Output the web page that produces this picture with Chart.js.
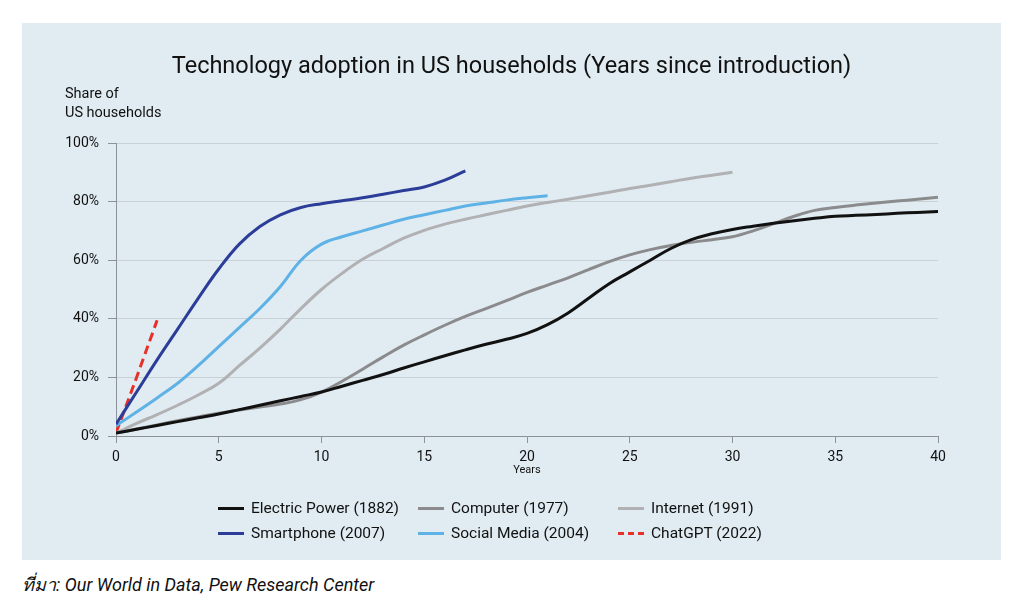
<!DOCTYPE html>
<html>
<head>
<meta charset="utf-8">
<script src="https://cdn.jsdelivr.net/npm/chart.js@4"></script>
<style>
  body { margin: 0; width: 1024px; height: 608px; background: #fff; position: relative; overflow: hidden; font-family: Roboto, "Noto Sans", sans-serif; }
  #panel { position: absolute; left: 22px; top: 23px; width: 979px; height: 537px; background: #e1ecf2; }
  #chart { position: absolute; left: 0; top: 0; }
  #title { position: absolute; left: 0; width: 979px; top: 28px; text-align: center; font-size: 23.5px; color: #111; }
  #ytitle { position: absolute; left: 43px; top: 61px; font-size: 14.5px; line-height: 19px; color: #111; }
  #legend { position: absolute; left: 196px; top: 476px; display: grid; grid-template-columns: 200px 200px 200px; row-gap: 7px;
            font-family: Roboto, sans-serif; font-size: 15.5px; color: #111; }
  .item { display: flex; align-items: center; height: 18px; }
  .swatch { width: 26px; height: 0; border-top: 3px solid; margin-right: 7px; }
  #source { position: absolute; left: 22px; top: 570px; font-size: 18px; font-style: italic; color: #111; }
</style>
</head>
<body>
<div id="panel">
  <canvas id="chart" width="979" height="537"></canvas>
  <div id="title">Technology adoption in US households (Years since introduction)</div>
  <div id="ytitle">Share of<br>US households</div>
  <div id="legend"></div>
</div>
<div id="source">ที่มา: Our World in Data, Pew Research Center</div>
<script>
const years = [];
for (let i = 0; i <= 40; i++) years.push(i);

const seriesNames = ['Electric Power (1882)', 'Computer (1977)', 'Internet (1991)', 'Smartphone (2007)', 'Social Media (2004)', 'ChatGPT (2022)'];
const seriesColors = ['#111111', '#8b8b8d', '#b1b1b4', '#2b3d98', '#5fb2e6', '#e8302a'];

const electric = [1, 2.3, 3.6, 4.9, 6.2, 7.5, 9, 10.5, 12, 13.5, 15, 17, 19, 21, 23.2, 25.3, 27.4, 29.4, 31.3, 33, 35,
  38, 42, 47, 52, 56, 60, 64, 67, 69, 70.5, 71.6, 72.6, 73.5, 74.3, 75, 75.3, 75.6, 76, 76.3, 76.6];
const computer = [1, 2.4, 3.8, 5.2, 6.5, 7.8, 8.9, 9.9, 10.9, 12.4, 15, 18.7, 22.8, 27, 31, 34.5, 37.8, 40.8, 43.5, 46.2, 49,
  51.5, 54, 56.8, 59.5, 61.8, 63.6, 65, 66.1, 67, 68, 70, 72.5, 75, 77, 78, 78.8, 79.5, 80.2, 80.8, 81.5];
const internet = [1, 4.3, 7.3, 10.5, 14, 18, 24, 30, 36.5, 43.5, 50, 55.5, 60.3, 64, 67.5, 70.2, 72.3, 74, 75.5, 77, 78.5,
  79.7, 80.8, 82, 83.2, 84.5, 85.6, 86.8, 88, 89, 90];
const smartphone = [4, 15, 26, 36.5, 47, 57, 65.5, 71.5, 75.5, 78, 79.3, 80.3, 81.3, 82.5, 83.8, 85, 87.3, 90.5];
const socialMedia = [3.5, 8.2, 13, 18, 24, 30.5, 37, 43.5, 51, 60, 65.5, 68, 70, 72, 74, 75.5, 77, 78.5, 79.5, 80.5, 81.3, 82];
const chatgpt = [1, 20, 39.5];

const yTicks = [0, 20, 40, 60, 80, 100];
const xTicks = [0, 5, 10, 15, 20, 25, 30, 35, 40];

const allValues = [electric, computer, internet, smartphone, socialMedia, chatgpt];

const datasets = allValues.map(function (vals, k) {
  return {
    label: seriesNames[k],
    data: vals.map(function (v, i) { return { x: years[i], y: v }; }),
    borderColor: seriesColors[k],
    backgroundColor: seriesColors[k],
    borderWidth: 3,
    borderDash: k === 5 ? [9, 5] : [],
    pointRadius: 0,
    tension: 0.4,
    fill: false
  };
});

// legend in 3 columns
const legend = document.getElementById('legend');
seriesNames.forEach(function (name, k) {
  const it = document.createElement('div');
  it.className = 'item';
  const sw = document.createElement('span');
  sw.className = 'swatch';
  sw.style.borderColor = seriesColors[k];
  if (k === 5) sw.style.borderTopStyle = 'dashed';
  it.appendChild(sw);
  it.appendChild(document.createTextNode(name));
  legend.appendChild(it);
});

new Chart(document.getElementById('chart'), {
  type: 'line',
  data: { datasets: datasets },
  options: {
    responsive: false,
    animation: false,
    layout: { padding: { left: 0, right: 63, top: 120, bottom: 83 } },
    plugins: { legend: { display: false }, title: { display: false }, tooltip: { enabled: false } },
    scales: {
      x: {
        type: 'linear', min: 0, max: 40,
        afterBuildTicks: function (s) { s.ticks = xTicks.map(function (v) { return { value: v }; }); },
        afterFit: function (s) { s.height = 41; },
        grid: { drawOnChartArea: false, tickLength: 7, tickColor: '#8d9298' },
        border: { color: '#8d9298', width: 1 },
        ticks: { color: '#111', font: { family: 'Roboto', size: 14 }, padding: 6, maxRotation: 0 },
        title: { display: true, text: 'Years', color: '#111', font: { family: 'Roboto', size: 11 }, padding: 0 }
      },
      y: {
        min: 0, max: 100,
        afterBuildTicks: function (s) { s.ticks = yTicks.map(function (v) { return { value: v }; }); },
        afterFit: function (s) { s.width = 94; },
        grid: { color: '#c9d1d7', tickLength: 8, tickColor: '#8d9298' },
        border: { color: '#8d9298', width: 1 },
        ticks: { color: '#111', font: { family: 'Roboto', size: 14 }, padding: 9, callback: function (v) { return v + '%'; } }
      }
    }
  }
});
</script>
</body>
</html>
